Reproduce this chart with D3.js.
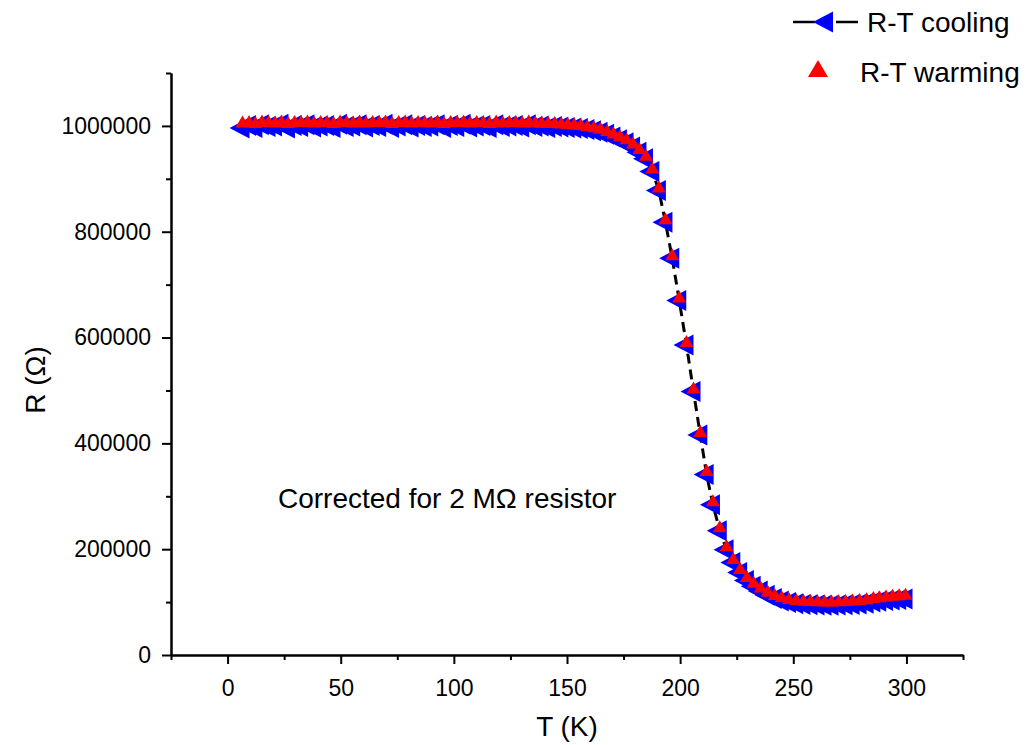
<!DOCTYPE html>
<html>
<head>
<meta charset="utf-8">
<script src="https://cdn.jsdelivr.net/npm/d3@7"></script>
<style>
  body { margin: 0; background: #fff; }
  text { font-family: "Liberation Sans", Arial, Helvetica, sans-serif; fill: #000; }
</style>
</head>
<body>
<div id="chart"></div>
<script>
// temperature points (K), shared by both runs
var temps = [6.6, 9.5, 12.3, 15.2, 18.1, 21.0, 23.8, 26.7, 29.6, 32.5, 35.3, 38.2, 41.1, 44.0, 46.8, 49.7,
  52.6, 55.5, 58.3, 61.2, 64.1, 67.0, 69.8, 72.7, 75.6, 78.5, 81.3, 84.2, 87.1, 90.0, 92.8, 95.7,
  98.6, 101.5, 104.3, 107.2, 110.1, 113.0, 115.8, 118.7, 121.6, 124.5, 127.3, 130.2, 133.1, 136.0,
  138.8, 141.7, 144.6, 147.5, 150.3, 153.2, 156.1,
  159.0, 161.9, 164.8, 167.7, 170.5, 173.4, 176.3, 179.2, 182.0, 184.9, 187.7, 190.6, 193.5, 196.5,
  199.6, 202.8, 205.9, 208.9, 211.7, 214.5, 217.5, 220.5, 223.5, 226.5, 229.5, 232.5, 235.6, 238.7,
  241.8, 244.9, 248.1, 251.3, 254.5, 257.6, 260.7, 263.8, 266.9, 270.0, 273.1, 276.2, 279.3, 282.4,
  285.4, 288.0, 291.0, 293.9, 296.8, 299.6];

// R (ohm) on cooling
var rCooling = [996000, 1001000, 997000, 1002000, 999000, 1000000, 1003000, 996000, 1001000, 999000,
  1002000, 998000, 1000000, 1001000, 997000, 1003000, 999000, 1000000, 1002000, 998000, 1001000,
  999000, 1003000, 997000, 1000000, 1002000, 998000, 1001000, 999000, 1000000, 1002000, 997000,
  1001000, 999000, 1003000, 998000, 1000000, 1001000, 997000, 1002000, 999000, 1000000, 1001000,
  998000, 1002000, 999000, 1000000, 997000, 999000, 998000, 997000, 996000, 995000,
  993000, 991000, 988000, 984000, 979000, 974000, 968000, 960000, 950000, 938000, 914000, 878000,
  818000, 750000, 670000, 586000, 498000, 416000, 341000, 284000, 235000, 199000, 175000, 156000,
  141000, 130000, 121000, 113000, 107000, 102000, 99000, 97000, 95500, 95000, 94500, 94000, 94000,
  94500, 95000, 95500, 96500, 98000, 100000, 101500, 103000, 104000, 105000, 106000];

// R (ohm) on warming
var rWarming = [999000, 1000000, 998000, 1001000, 1000000, 999000, 1001000, 998000, 1000000, 1000000,
  1001000, 999000, 1000000, 1000000, 998000, 1001000, 1000000, 999000, 1001000, 999000, 1000000,
  1000000, 1001000, 998000, 1000000, 1001000, 999000, 1000000, 1000000, 999000, 1001000, 998000,
  1000000, 1000000, 1001000, 999000, 1000000, 1000000, 998000, 1001000, 999000, 1000000, 1000000,
  999000, 1001000, 999000, 999000, 998000, 998000, 997000, 996000, 995000, 994000,
  992000, 990000, 987000, 983000, 978000, 973000, 967000, 959000, 949000, 936000, 912000, 876000,
  816000, 748000, 668000, 584000, 496000, 414000, 340000, 283000, 234000, 198000, 174000, 155000,
  140000, 129000, 120000, 112000, 106000, 101500, 98500, 96500, 95000, 94500, 94000, 93500, 93500,
  94000, 94500, 95500, 96500, 98000, 100000, 101500, 103000, 104500, 105500, 106500];

var xMajor = [0, 50, 100, 150, 200, 250, 300];
var xMinor = [-25, 25, 75, 125, 175, 225, 275, 325];
var yMajor = [0, 200000, 400000, 600000, 800000, 1000000];
var yMinor = [100000, 300000, 500000, 700000, 900000, 1100000];

var cooling = temps.map(function(t, i) { return {t: t, r: rCooling[i]}; });
var warming = temps.map(function(t, i) { return {t: t, r: rWarming[i]}; });

var width = 1027, height = 745;

var svg = d3.select("#chart")
    .append("svg")
    .attr("width", width)
    .attr("height", height);

var x = d3.scaleLinear().domain([-25, 325]).range([171, 963]);
var y = d3.scaleLinear().domain([0, 1100000]).range([655, 73]);

function styleAxis(g) {
    g.select(".domain").attr("stroke", "#000").attr("stroke-width", 2);
    g.selectAll(".tick line").attr("stroke", "#000").attr("stroke-width", 2);
}

// x axis
svg.append("g")
    .attr("transform", "translate(0,655)")
    .call(d3.axisBottom(x).tickValues(xMinor).tickSize(5).tickSizeOuter(0).tickFormat(""))
    .call(styleAxis);

svg.append("g")
    .attr("transform", "translate(0,655)")
    .call(d3.axisBottom(x).tickValues(xMajor).tickSize(9).tickSizeOuter(0).tickPadding(16))
    .call(styleAxis)
    .call(function(g) {
        g.selectAll(".tick text").attr("font-size", 23).attr("font-family", null);
    });

// y axis
svg.append("g")
    .attr("transform", "translate(171,0)")
    .call(d3.axisLeft(y).tickValues(yMinor).tickSize(5).tickSizeOuter(0).tickFormat(""))
    .call(styleAxis);

svg.append("g")
    .attr("transform", "translate(171,0)")
    .call(d3.axisLeft(y).tickValues(yMajor).tickSize(9).tickSizeOuter(0).tickPadding(11)
        .tickFormat(d3.format("d")))
    .call(styleAxis)
    .call(function(g) {
        g.selectAll(".tick text").attr("font-size", 23).attr("font-family", null);
    });

// axis titles
svg.append("text")
    .attr("x", 567)
    .attr("y", 736)
    .attr("text-anchor", "middle")
    .attr("font-size", 28)
    .text("T (K)");

svg.append("text")
    .attr("transform", "translate(45,380) rotate(-90)")
    .attr("text-anchor", "middle")
    .attr("font-size", 28)
    .text("R (\u03A9)");

// dashed line through the cooling points
var line = d3.line()
    .x(function(d) { return x(d.t); })
    .y(function(d) { return y(d.r); });

svg.append("path")
    .datum(cooling)
    .attr("d", line)
    .attr("fill", "none")
    .attr("stroke", "#000")
    .attr("stroke-width", 3)
    .attr("stroke-dasharray", "10,6");

var leftTri = "M-13,0L7,-10.5L7,10.5Z";
var upTri = "M0,-12L7,0L-7,0Z";

svg.append("g").selectAll("path")
    .data(cooling).enter()
    .append("path")
    .attr("d", leftTri)
    .attr("transform", function(d) { return "translate(" + x(d.t) + "," + y(d.r) + ")"; })
    .attr("fill", "#0000ff");

svg.append("g").selectAll("path")
    .data(warming).enter()
    .append("path")
    .attr("d", upTri)
    .attr("transform", function(d) { return "translate(" + x(d.t) + "," + (y(d.r) + 1) + ")"; })
    .attr("fill", "#ff0000");

// annotation
svg.append("text")
    .attr("x", 278)
    .attr("y", 508)
    .attr("font-size", 28)
    .text("Corrected for 2 M\u03A9 resistor");

// legend
var legend = svg.append("g");
legend.append("line")
    .attr("x1", 793).attr("x2", 815).attr("y1", 22).attr("y2", 22)
    .attr("stroke", "#000").attr("stroke-width", 2.5);
legend.append("line")
    .attr("x1", 836).attr("x2", 858).attr("y1", 22).attr("y2", 22)
    .attr("stroke", "#000").attr("stroke-width", 2.5);
legend.append("path")
    .attr("d", leftTri)
    .attr("transform", "translate(826,22)")
    .attr("fill", "#0000ff");
legend.append("text")
    .attr("x", 867).attr("y", 32)
    .attr("font-size", 28)
    .text("R-T cooling");
legend.append("path")
    .attr("d", "M0,-17L10,0L-10,0Z")
    .attr("transform", "translate(818,77)")
    .attr("fill", "#ff0000");
legend.append("text")
    .attr("x", 860).attr("y", 82)
    .attr("font-size", 28)
    .text("R-T warming");
</script>
</body>
</html>
